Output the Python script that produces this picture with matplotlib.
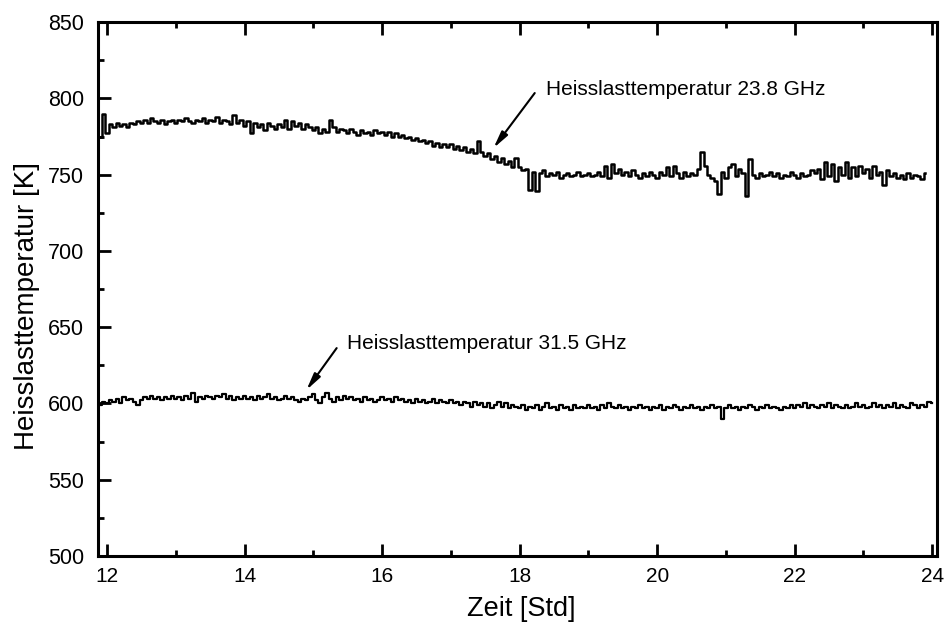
import numpy as np
import matplotlib
matplotlib.use("Agg")
import matplotlib.pyplot as plt
from matplotlib.ticker import MultipleLocator

plt.rcParams["font.family"] = ["Liberation Sans", "DejaVu Sans"]

# sampling: every 0.05 h starting at 11.90 h
t_start = 11.90
t_step = 0.05

# Heisslasttemperatur 23.8 GHz [K]
hot_238 = [
    775, 790,
    777, 783, 781, 784, 782, 783, 781, 784, 783, 785, 784, 786, 784, 787, 785, 784, 786, 783, 785, 786,
    784, 786, 785, 787, 785, 784, 786, 785, 787, 784, 786, 785, 788, 784, 786, 785, 783, 789, 784, 786,
    782, 785, 777, 784, 781, 783, 779, 784, 782, 780, 783, 781, 786, 780, 785, 782, 784, 780, 783, 781,
    779, 781, 777, 780, 778, 786, 781, 778, 780, 779, 777, 780, 778, 776, 779, 777, 778, 776, 779, 777,
    778, 776, 778, 775, 777, 775, 776, 774, 775, 773, 774, 772, 773, 771, 772, 769, 771, 768, 770, 768,
    770, 767, 769, 766, 768, 765, 767, 764, 772, 765, 762, 764, 760, 762, 758, 761, 757, 759, 755, 761,
    755, 753, 754, 740, 752, 739, 751, 753, 749, 751, 750, 752, 748, 750, 751, 749, 750, 752, 749, 750,
    751, 749, 750, 752, 749, 756, 748, 757, 751, 754, 750, 752, 749, 753, 750, 748, 751, 749, 752, 750,
    748, 752, 750, 755, 749, 756, 751, 748, 752, 749, 751, 750, 754, 765, 756, 750, 748, 746, 737, 752,
    748, 755, 757, 749, 754, 751, 736, 760, 750, 748, 751, 749, 750, 752, 749, 751, 748, 750, 749, 752,
    750, 748, 751, 749, 750, 753, 751, 754, 747, 758, 749, 757, 746, 755, 750, 758, 748, 755, 749, 756,
    751, 754, 748, 756, 750, 752, 743, 753, 749, 751, 748, 750, 747, 751, 748, 750, 749, 747, 751,
]

# Heisslasttemperatur 31.5 GHz [K]
hot_315 = [
    599, 601,
    600, 602, 601, 603, 600, 604, 602, 603, 601, 599, 602, 604, 603, 605, 603, 604, 602, 604, 603, 605,
    603, 604, 602, 605, 603, 607, 601, 604, 603, 605, 604, 603, 605, 604, 606, 603, 605, 602, 604, 603,
    605, 603, 604, 602, 605, 603, 604, 606, 603, 604, 602, 603, 605, 603, 604, 602, 601, 603, 602, 604,
    606, 602, 600, 604, 607, 603, 601, 604, 602, 605, 603, 604, 602, 603, 601, 604, 602, 603, 601, 602,
    604, 602, 603, 601, 604, 602, 603, 601, 602, 600, 603, 601, 602, 600, 601, 603, 600, 602, 601, 600,
    602, 600, 601, 599, 601, 600, 598, 601, 599, 600, 598, 600, 597, 599, 601, 598, 600, 597, 599, 598,
    597, 599, 596, 598, 597, 599, 596, 598, 600, 597, 598, 596, 599, 597, 598, 596, 599, 597, 598, 597,
    599, 597, 598, 596, 599, 597, 600, 598, 597, 599, 597, 598, 596, 598, 597, 599, 597, 598, 596, 598,
    597, 599, 596, 598, 597, 599, 598, 596, 598, 597, 599, 597, 598, 596, 598, 597, 599, 597, 598, 590,
    597, 599, 597, 598, 596, 598, 597, 599, 598, 596, 598, 597, 599, 597, 598, 597, 596, 598, 597, 599,
    597, 599, 598, 600, 597, 599, 598, 597, 599, 598, 600, 597, 599, 598, 597, 599, 597, 598, 600, 598,
    599, 597, 598, 600, 598, 599, 597, 599, 598, 600, 597, 599, 598, 597, 600, 599, 597, 599, 598, 601,
    600,
]

labels = ["Heisslasttemperatur 23.8 GHz", "Heisslasttemperatur 31.5 GHz"]
# (text position, arrow tail, arrow tip) in data units
label_pos = [(18.38, 806.0), (15.49, 639.6)]
arrow_tail = [(18.22, 803.5), (15.34, 636.3)]
arrow_tip = [(17.62, 767.4), (14.90, 608.8)]

t_238 = t_start + t_step * np.arange(len(hot_238))
t_315 = t_start + t_step * np.arange(len(hot_315))

fig = plt.figure(figsize=(9.47, 6.23), dpi=100)
ax = fig.add_axes([0.1035, 0.1075, 0.886, 0.857])

ax.plot(t_238, hot_238, color="black", lw=1.8, drawstyle="steps-mid")
ax.plot(t_315, hot_315, color="black", lw=1.6, drawstyle="steps-mid")

for txt, pos, tail, tip in zip(labels, label_pos, arrow_tail, arrow_tip):
    ax.text(pos[0], pos[1], txt, fontsize=15, ha="left", va="center")
    ax.annotate("", xy=tip, xytext=tail,
                arrowprops=dict(arrowstyle="-|>,head_length=1.0,head_width=0.22",
                                color="black", lw=1.5, shrinkA=0, shrinkB=0))

ax.set_xlim(11.87, 24.07)
ax.set_ylim(500, 850)
ax.xaxis.set_major_locator(MultipleLocator(2))
ax.xaxis.set_minor_locator(MultipleLocator(1))
ax.yaxis.set_major_locator(MultipleLocator(50))
ax.yaxis.set_minor_locator(MultipleLocator(25))
ax.tick_params(which="both", direction="in", top=True, right=False, width=2)
ax.tick_params(which="major", length=9)
ax.tick_params(which="minor", length=4.5)
ax.tick_params(axis="y", labelsize=15.5, pad=10)
ax.tick_params(axis="x", labelsize=15, pad=8)
for sp in ax.spines.values():
    sp.set_linewidth(2.2)

ax.set_xlabel("Zeit [Std]", fontsize=19.5)
ax.set_ylabel("Heisslasttemperatur [K]", fontsize=20)
ax.xaxis.set_label_coords(0.504, -0.075)
ax.yaxis.set_label_coords(-0.069, 0.468)

fig.savefig("out.png", dpi=100)
